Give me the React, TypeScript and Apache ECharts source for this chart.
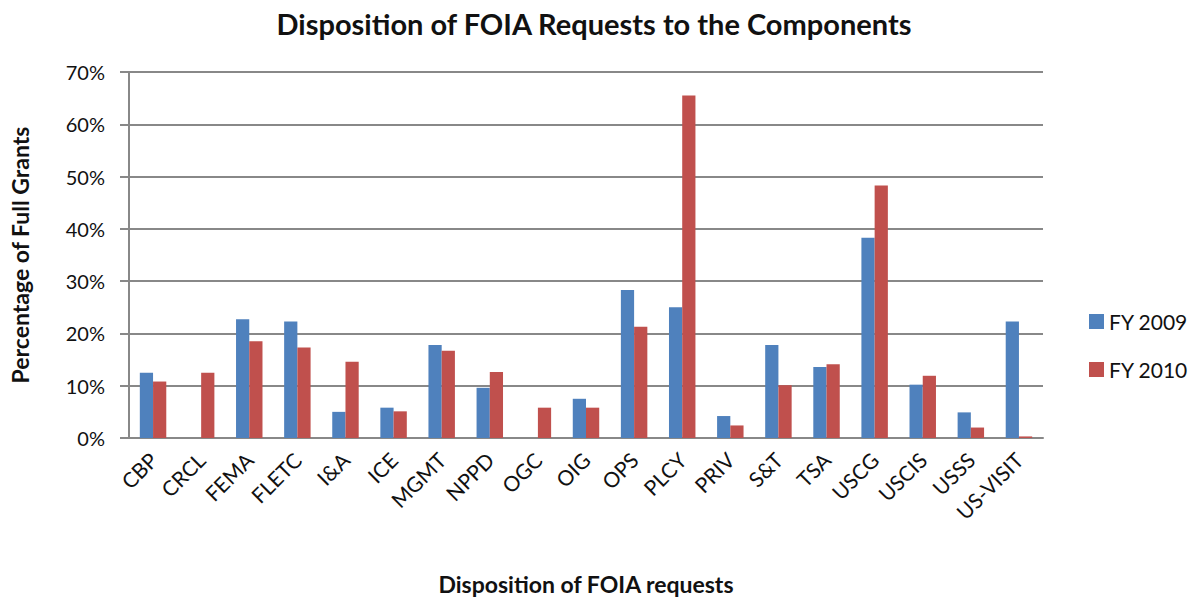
import React, { useEffect, useRef } from "react";
import * as echarts from "echarts";

const categories = ["CBP", "CRCL", "FEMA", "FLETC", "I&A", "ICE", "MGMT", "NPPD", "OGC", "OIG", "OPS", "PLCY", "PRIV", "S&T", "TSA", "USCG", "USCIS", "USSS", "US-VISIT"];
const fy2009 = [12.5, 0, 22.7, 22.3, 5.0, 5.8, 17.8, 9.6, 0, 7.5, 28.3, 25.0, 4.2, 17.8, 13.6, 38.3, 10.2, 4.9, 22.3];
const fy2010 = [10.8, 12.5, 18.5, 17.3, 14.6, 5.1, 16.7, 12.6, 5.8, 5.8, 21.3, 65.5, 2.4, 10.1, 14.1, 48.3, 11.9, 2.0, 0.3];
const seriesNames = ["FY 2009", "FY 2010"];

const FONT = "Lato, 'Open Sans', sans-serif";

export default function App() {
  const ref = useRef<HTMLDivElement>(null);
  useEffect(() => {
    if (!ref.current) return;
    const chart = echarts.init(ref.current, undefined, { renderer: "svg" });
    chart.setOption({
      animation: false,
      backgroundColor: "#ffffff",
      textStyle: { fontFamily: FONT },
      title: {
        text: "Disposition of FOIA Requests to the Components",
        left: 589,
        textAlign: "center",
        top: 4,
        textStyle: { fontFamily: FONT, fontSize: 29, fontWeight: "bold", color: "#111" },
      },
      legend: {
        orient: "vertical",
        left: 1084,
        top: 306,
        itemWidth: 15,
        itemHeight: 15,
        itemGap: 27,
        icon: "rect",
        textStyle: { fontFamily: FONT, fontSize: 21, color: "#111" },
        data: seriesNames,
      },
      grid: { left: 126, right: 154, top: 72, bottom: 163 },
      xAxis: {
        type: "category",
        data: categories,
        name: "Disposition of FOIA requests",
        nameLocation: "middle",
        nameGap: 134,
        nameTextStyle: { fontFamily: FONT, fontSize: 23, fontWeight: "bold", color: "#111" },
        axisLine: { lineStyle: { color: "#888", width: 2 } },
        axisTick: { show: false },
        axisLabel: { rotate: 45, fontSize: 21, color: "#111", fontFamily: FONT, margin: 18, interval: 0 },
      },
      yAxis: {
        type: "value",
        min: 0,
        max: 70,
        interval: 10,
        name: "Percentage of Full Grants",
        nameLocation: "middle",
        nameGap: 98,
        nameTextStyle: { fontFamily: FONT, fontSize: 23, fontWeight: "bold", color: "#111" },
        axisLine: { show: true, lineStyle: { color: "#888", width: 2 } },
        axisTick: { show: true, length: 9, lineStyle: { color: "#888", width: 2 } },
        axisLabel: { formatter: "{value}%", fontSize: 20, color: "#111", fontFamily: FONT, margin: 24 },
        splitLine: { lineStyle: { color: "#888", width: 2 } },
      },
      series: [
        { name: seriesNames[0], type: "bar", data: fy2009, itemStyle: { color: "#4F81BD" }, barGap: "0%", barCategoryGap: "45%" },
        { name: seriesNames[1], type: "bar", data: fy2010, itemStyle: { color: "#C0504D" }, barGap: "0%", barCategoryGap: "45%" },
      ],
    });
    return () => chart.dispose();
  }, []);
  return <div ref={ref} style={{ width: 1197, height: 601, position: "absolute", left: 0, top: 0 }} />;
}
